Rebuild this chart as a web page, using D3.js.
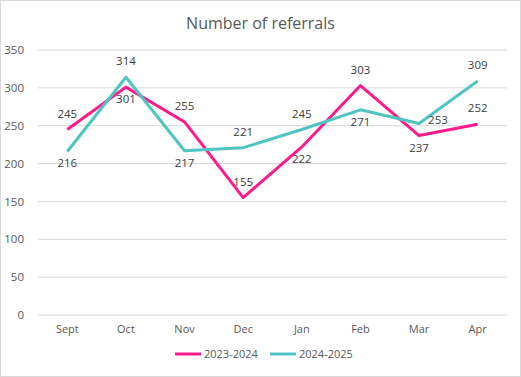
<!DOCTYPE html>
<html>
<head>
<meta charset="utf-8">
<script src="https://cdn.jsdelivr.net/npm/d3@7"></script>
<style>
  body { margin: 0; background: #fff; }
  text { font-family: "Open Sans", "Noto Sans", sans-serif; }
</style>
</head>
<body>
<div id="chart"></div>
<script>
// Datos
const months = ["Sept", "Oct", "Nov", "Dec", "Jan", "Feb", "Mar", "Apr"];
const series2324 = [245, 301, 255, 155, 222, 303, 237, 252];
const series2425 = [216, 314, 217, 221, 245, 271, 253, 309];
const seriesNames = ["2023-2024", "2024-2025"];
const yTicks = [0, 50, 100, 150, 200, 250, 300, 350];

const W = 521, H = 377;
const margin = { top: 50, right: 14, bottom: 62, left: 38 };
const width = W - margin.left - margin.right;
const height = H - margin.top - margin.bottom;

const colors = ["#ff1a8c", "#4fc4c0"];
// posición de la etiqueta: a = arriba, b = abajo, r = derecha
const labelSide = [
  ["a", "b", "a", "a", "b", "a", "b", "a"],
  ["b", "a", "b", "a", "a", "b", "r", "a"]
];

const svg = d3.select("#chart").append("svg")
    .attr("width", W)
    .attr("height", H);

svg.append("rect")
    .attr("x", 0.5).attr("y", 0.5)
    .attr("width", W - 1).attr("height", H - 1)
    .attr("fill", "#fff")
    .attr("stroke", "#d9d9d9");

svg.append("text")
    .attr("x", W / 2)
    .attr("y", 29)
    .attr("text-anchor", "middle")
    .attr("fill", "#595959")
    .attr("font-size", 16)
    .text("Number of referrals");

const g = svg.append("g")
    .attr("transform", `translate(${margin.left}, ${margin.top})`);

const x = d3.scaleBand().domain(months).range([0, width]);
const y = d3.scaleLinear().domain([0, 350]).range([height, 0]);

// Rejilla
g.append("g")
    .selectAll("line")
    .data(yTicks)
    .join("line")
    .attr("x1", 0).attr("x2", width)
    .attr("y1", d => y(d)).attr("y2", d => y(d))
    .attr("stroke", "#d9d9d9");

// Ejes
const yAxis = g.append("g")
    .call(d3.axisLeft(y).tickValues(yTicks).tickSize(0).tickPadding(14));
yAxis.select(".domain").remove();
yAxis.selectAll("text").attr("fill", "#595959").attr("font-size", 11.5)
    .style("font-family", "'Open Sans', sans-serif");

const xAxis = g.append("g")
    .attr("transform", `translate(0, ${height})`)
    .call(d3.axisBottom(x).tickSize(0).tickPadding(10));
xAxis.select(".domain").remove();
xAxis.selectAll("text").attr("fill", "#595959").attr("font-size", 11)
    .style("font-family", "'Open Sans', sans-serif");

const cx = i => x(months[i]) + x.bandwidth() / 2;

const line = d3.line()
    .x((d, i) => cx(i))
    .y(d => y(d));

[series2324, series2425].forEach((s, k) => {
    g.append("path")
        .datum(s)
        .attr("fill", "none")
        .attr("stroke", colors[k])
        .attr("stroke-width", 3)
        .attr("stroke-linejoin", "round")
        .attr("d", line);
});

[series2324, series2425].forEach((s, k) => {
    g.append("g")
        .selectAll("text")
        .data(s)
        .join("text")
        .attr("x", (d, i) => labelSide[k][i] === "r" ? cx(i) + 9 : cx(i))
        .attr("y", (d, i) => {
            const side = labelSide[k][i];
            if (side === "a") return y(d) - 12;
            if (side === "b") return y(d) + 16;
            return y(d) + 1;
        })
        .attr("text-anchor", (d, i) => labelSide[k][i] === "r" ? "start" : "middle")
        .attr("fill", "#404040")
        .attr("font-size", 11.5)
        .text(d => d);
});

// Leyenda
const legend = svg.append("g").attr("transform", "translate(0, 354)");
const legendX = [175, 270];
seriesNames.forEach((name, k) => {
    legend.append("line")
        .attr("x1", legendX[k]).attr("x2", legendX[k] + 26)
        .attr("y1", 0).attr("y2", 0)
        .attr("stroke", colors[k])
        .attr("stroke-width", 3);
    legend.append("text")
        .attr("x", legendX[k] + 29)
        .attr("y", 4)
        .attr("fill", "#595959")
        .attr("font-size", 11)
        .text(name);
});
</script>
</body>
</html>
